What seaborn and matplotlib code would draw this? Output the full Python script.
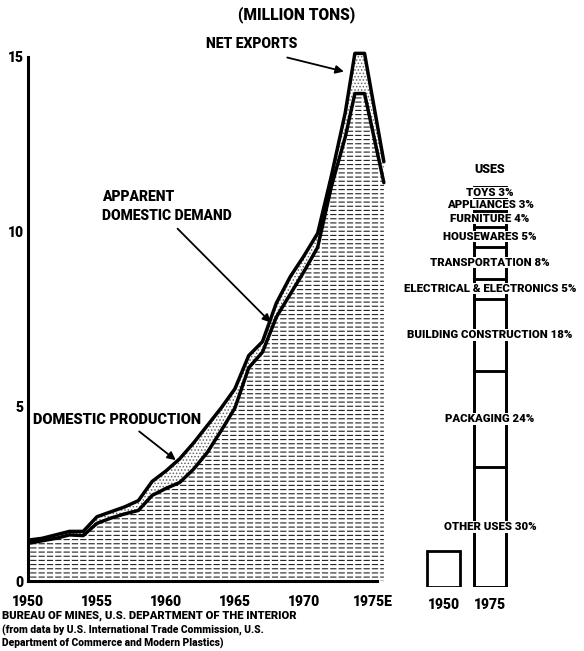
import numpy as np
import pandas as pd
import matplotlib
matplotlib.use('Agg')
import matplotlib.pyplot as plt
import seaborn as sns

# plastics production / demand, million tons
years = [1950, 1951, 1952, 1953, 1954, 1955, 1956, 1957, 1958, 1959,
         1960, 1961, 1962, 1963, 1964, 1965, 1966, 1967, 1968, 1969,
         1970, 1971, 1972, 1973, 1973.7, 1974.4, 1975.8]
production = [1.17, 1.22, 1.32, 1.42, 1.42, 1.84, 1.98, 2.12, 2.30, 2.85,
              3.15, 3.50, 3.95, 4.45, 4.95, 5.50, 6.45, 6.85, 7.95, 8.70,
              9.30, 9.95, 11.60, 13.40, 15.10, 15.10, 12.00]
demand = [1.08, 1.15, 1.22, 1.32, 1.30, 1.65, 1.80, 1.92, 2.02, 2.45,
          2.65, 2.82, 3.20, 3.68, 4.30, 4.95, 6.10, 6.55, 7.55, 8.20,
          8.85, 9.55, 11.30, 12.70, 13.95, 13.95, 11.40]

xtick_years = [1950, 1955, 1960, 1965, 1970, 1975]
xtick_labels = ['1950', '1955', '1960', '1965', '1970', '1975E']

# uses bars
bar_years = ['1950', '1975']
bar_totals = [1.03, 11.46]
use_labels = ['OTHER USES 30%', 'PACKAGING 24%', 'BUILDING CONSTRUCTION 18%',
              'ELECTRICAL & ELECTRONICS 5%', 'TRANSPORTATION 8%', 'HOUSEWARES 5%',
              'FURNITURE 4%', 'APPLIANCES 3%', 'TOYS 3%']
use_pcts = [30, 24, 18, 5, 8, 5, 4, 3, 3]

sns.set_style('white')
plt.rcParams['font.family'] = ['Roboto', 'DejaVu Sans']
plt.rcParams['font.weight'] = 'heavy'
for k in ['text.color', 'axes.labelcolor', 'xtick.color', 'ytick.color']:
    plt.rcParams[k] = 'black'

df = pd.DataFrame({'year': years, 'production': production, 'demand': demand})

fig = plt.figure(figsize=(5.84, 6.51), dpi=100)
ax = fig.add_axes([0.048, 0.1075, 0.614, 0.832])

# dashed hatch: dark horizontal lines broken by white vertical ones
with plt.rc_context({'hatch.linewidth': 0.8}):
    ax.fill_between(df['year'], 0, df['demand'], facecolor='white', edgecolor='#222222',
                    hatch='----', linewidth=0)
with plt.rc_context({'hatch.linewidth': 1.5}):
    ax.fill_between(df['year'], 0, df['demand'], facecolor='none', edgecolor='white',
                    hatch='||', linewidth=0)
with plt.rc_context({'hatch.linewidth': 0.7}):
    ax.fill_between(df['year'], df['demand'], df['production'], facecolor='white',
                    edgecolor='#666666', hatch='.....', linewidth=0)
sns.lineplot(data=df, x='year', y='production', ax=ax, color='black', lw=2.5)
sns.lineplot(data=df, x='year', y='demand', ax=ax, color='black', lw=2.5)

ax.set_xlim(1950, 1976)
ax.set_ylim(0, 15.5)
ax.set_xlabel('')
ax.set_ylabel('')
for s in ['top', 'right']:
    ax.spines[s].set_visible(False)
for s in ['left', 'bottom']:
    ax.spines[s].set_linewidth(2.2)
    ax.spines[s].set_color('black')
ax.spines['left'].set_bounds(0, 15)
ax.spines['bottom'].set_bounds(1950, 1975.3)

ax.set_yticks([0, 5, 10, 15])
ax.set_yticklabels(['0', '5', '10', '15'], fontsize=10)
ax.set_yticks(np.arange(0, 16), minor=True)
ax.tick_params(axis='y', which='major', direction='in', length=13, width=2, pad=3)
ax.tick_params(axis='y', which='minor', direction='in', length=7, width=2)
ax.set_xticks(xtick_years)
ax.set_xticklabels(xtick_labels, fontsize=10)
ax.tick_params(axis='x', direction='in', length=3, width=1.5, pad=10)

# annotations
ax.text(1966.2, 15.36, 'NET EXPORTS', ha='center', va='center', fontsize=10)
ax.annotate('', xy=(1973.1, 14.56), xytext=(1968.6, 15.0),
            arrowprops=dict(arrowstyle='-|>', color='black', lw=1.3, mutation_scale=12))
ax.text(1955.36, 10.73, 'APPARENT\nDOMESTIC DEMAND', ha='left', va='center',
        fontsize=10, linespacing=1.45)
ax.annotate('', xy=(1967.75, 7.34), xytext=(1960.7, 10.14),
            arrowprops=dict(arrowstyle='-|>', color='black', lw=1.3, mutation_scale=12))
ax.text(1950.36, 4.61, 'DOMESTIC PRODUCTION', ha='left', va='center', fontsize=10.5)
ax.annotate('', xy=(1960.87, 3.41), xytext=(1957.9, 4.33),
            arrowprops=dict(arrowstyle='-|>', color='black', lw=1.3, mutation_scale=12))

# uses panel
ax2 = fig.add_axes([415.6 / 584, (651 - 587) / 651, 102.3 / 584, 0.832])
sns.barplot(x=bar_years, y=bar_totals, ax=ax2, color='white', saturation=1,
            edgecolor='black', linewidth=2, width=0.69)
heights = np.array(use_pcts) / 100 * bar_totals[1]
bottoms = np.concatenate([[0], np.cumsum(heights)[:-1]])
ax2.bar(1, heights, bottom=bottoms, width=0.69, facecolor='none',
        edgecolor='black', linewidth=1.8)
for lab, b, h in zip(use_labels, bottoms, heights):
    ax2.text(1, b + h / 2, lab, ha='center', va='center', fontsize=8.2, zorder=5,
             bbox=dict(facecolor='white', edgecolor='none', pad=0.6))
ax2.text(1, bar_totals[1] + 0.3, 'USES', ha='center', va='bottom', fontsize=9)
ax2.set_xlim(-0.6, 1.6)
ax2.set_ylim(0, 15.5)
ax2.set_yticks([])
for s in ax2.spines.values():
    s.set_visible(False)
ax2.tick_params(axis='x', length=0, pad=8, labelsize=10)

fig.text(297 / 584, 1 - 15 / 651, '(MILLION TONS)', ha='center', va='center', fontsize=11.2)
fig.text(0.003, 1 - 616 / 651, 'BUREAU OF MINES, U.S. DEPARTMENT OF THE INTERIOR',
         ha='left', va='center', fontsize=8.1)
fig.text(0.003, 1 - 630 / 651, '(from data by U.S. International Trade Commission, U.S.',
         ha='left', va='center', fontsize=7.4)
fig.text(0.003, 1 - 643 / 651, 'Department of Commerce and Modern Plastics)',
         ha='left', va='center', fontsize=7.4)

fig.savefig('out.png', dpi=100)
